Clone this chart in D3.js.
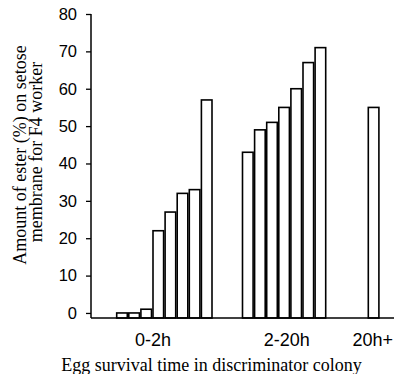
<!DOCTYPE html>
<html>
<head>
<meta charset="utf-8">
<script src="https://cdn.jsdelivr.net/npm/d3@7"></script>
<style>
  body { margin: 0; background: #fff; }
</style>
</head>
<body>
<div id="chart"></div>
<script>
// Data
const groups = ['0-2h', '2-20h', '20h+'];
const shortValues = [0, 0, 1, 22, 27, 32, 33, 57];
const midValues = [43, 49, 51, 55, 60, 67, 71];
const longValues = [55];
const yTicks = [0, 10, 20, 30, 40, 50, 60, 70, 80];

const groupValues = [shortValues, midValues, longValues];

// flatten into one list of bars
let bars = [];
groups.forEach((g, gi) => {
  groupValues[gi].forEach((v, i) => {
    bars.push({group: g, index: i, value: v});
  });
});

const width = 394;
const height = 374;
const axisX = 91;
const barStep = 12.1;
const barWidth = 10.6;

const svg = d3.select('#chart')
  .append('svg')
  .attr('width', width)
  .attr('height', height);

// y scale: x axis sits a little below zero
const yScale = d3.scaleLinear()
  .domain([-1.35, 80])
  .range([318, 14]);

const xGroup = d3.scaleBand()
  .domain(groups)
  .range([116.7, 116.7 + 3 * 125.8])
  .padding(0);

// bars
svg.append('g')
  .selectAll('rect')
  .data(bars)
  .join('rect')
  .attr('x', d => xGroup(d.group) + d.index * barStep)
  .attr('y', d => yScale(d.value))
  .attr('width', barWidth)
  .attr('height', d => yScale.range()[0] - yScale(d.value))
  .attr('fill', '#fff')
  .attr('stroke', '#000')
  .attr('stroke-width', 1.6);

// y axis
const yAxis = d3.axisLeft(yScale)
  .tickValues(yTicks)
  .tickSize(5)
  .tickPadding(9)
  .tickFormat(d3.format('d'));

const yg = svg.append('g')
  .attr('transform', `translate(${axisX}, 0)`)
  .call(yAxis);
yg.select('.domain').remove();
yg.selectAll('line').attr('stroke', '#000').attr('stroke-width', 1.3);
yg.selectAll('text')
  .style('font-family', 'Arial, "Liberation Sans", sans-serif')
  .style('font-size', '16.5px')
  .attr('fill', '#000');

// axis lines
svg.append('line')
  .attr('x1', axisX).attr('x2', axisX)
  .attr('y1', yScale(80)).attr('y2', yScale.range()[0])
  .attr('stroke', '#000').attr('stroke-width', 1.5);
svg.append('line')
  .attr('x1', axisX).attr('x2', width)
  .attr('y1', yScale.range()[0]).attr('y2', yScale.range()[0])
  .attr('stroke', '#000').attr('stroke-width', 1.5);

// category labels (last one kept just inside the right edge)
const labelNudge = {'0-2h': -12, '2-20h': 2, '20h+': -1.5};
svg.append('g')
  .selectAll('text')
  .data(groups)
  .join('text')
  .attr('x', (g, i) => xGroup(g) + groupValues[i].length * barStep / 2 + labelNudge[g])
  .attr('y', 346)
  .attr('text-anchor', 'middle')
  .style('font-family', 'Arial, "Liberation Sans", sans-serif')
  .style('font-size', '18px')
  .text(g => g);

// x axis title
svg.append('text')
  .attr('x', 211.5)
  .attr('y', 371)
  .attr('text-anchor', 'middle')
  .style('font-family', '"Times New Roman", "Liberation Serif", serif')
  .style('font-size', '18px')
  .text('Egg survival time in discriminator colony');

// y axis title, two lines
const yTitle = svg.append('text')
  .attr('transform', 'rotate(-90)')
  .attr('text-anchor', 'middle')
  .style('font-family', '"Times New Roman", "Liberation Serif", serif')
  .style('font-size', '18px');
yTitle.append('tspan')
  .attr('x', -155).attr('y', 26)
  .text('Amount of ester (%) on setose');
yTitle.append('tspan')
  .attr('x', -152).attr('y', 42)
  .text('membrane for F4 worker');
</script>
</body>
</html>
